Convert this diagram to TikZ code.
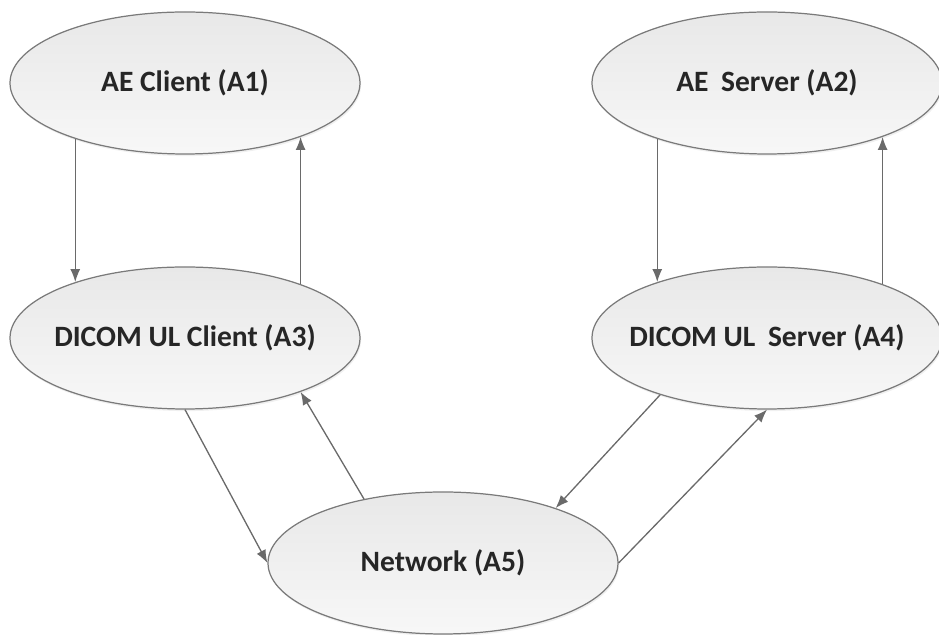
\documentclass[tikz,border=0pt]{standalone}
\usepackage{fontspec}
\setmainfont{Carlito}
\usepackage{xcolor}
\usepackage{tikz}
\usetikzlibrary{shapes.geometric,arrows.meta,shadows}

\definecolor{rimgray}{HTML}{7A7A7A}
\definecolor{linkgray}{HTML}{6A6A6A}
\tikzset{
    entity/.style={ellipse, draw=rimgray, line width=0.7pt, top color=black!9, bottom color=black!3,
        drop shadow={opacity=0.12, shadow xshift=0.6pt, shadow yshift=-1.2pt},
        minimum width=7cm, minimum height=2.84cm, inner sep=0pt, inner xsep=-0.6cm,
        font=\fontsize{16.8}{20}\selectfont\bfseries, text=black!85},
    link/.style={draw=linkgray, line width=0.75pt, -{Latex[length=2.6mm,width=2mm]}}
}

\begin{document}
\begin{tikzpicture}
    \useasboundingbox (0,0) rectangle (18.78,12.70);
    \node[entity] (aeclient) at (3.70,11.04) {AE Client (A1)};
    \node[entity] (aeserver) at (15.34,11.04) {AE\hspace{0.2em} Server (A2)};
    \node[entity] (ulclient) at (3.70,5.94) {DICOM UL Client (A3)};
    \node[entity] (ulserver) at (15.34,5.94) {DICOM UL\hspace{0.2em} Server (A4)};
    \node[entity] (network) at (8.86,1.44) {Network (A5)};
    \draw[link] (aeclient.207) -- (ulclient.153);
    \draw[link] (ulclient.25) -- (aeclient.335);
    \draw[link] (aeserver.207) -- (ulserver.153);
    \draw[link] (ulserver.25) -- (aeserver.335);
    \draw[link] (ulclient.south) -- (network.west);
    \draw[link] (network.141) -- (ulclient.335);
    \draw[link] (ulserver.208) -- (network.26);
    \draw[link] (network.east) -- (ulserver.south);
\end{tikzpicture}
\end{document}
